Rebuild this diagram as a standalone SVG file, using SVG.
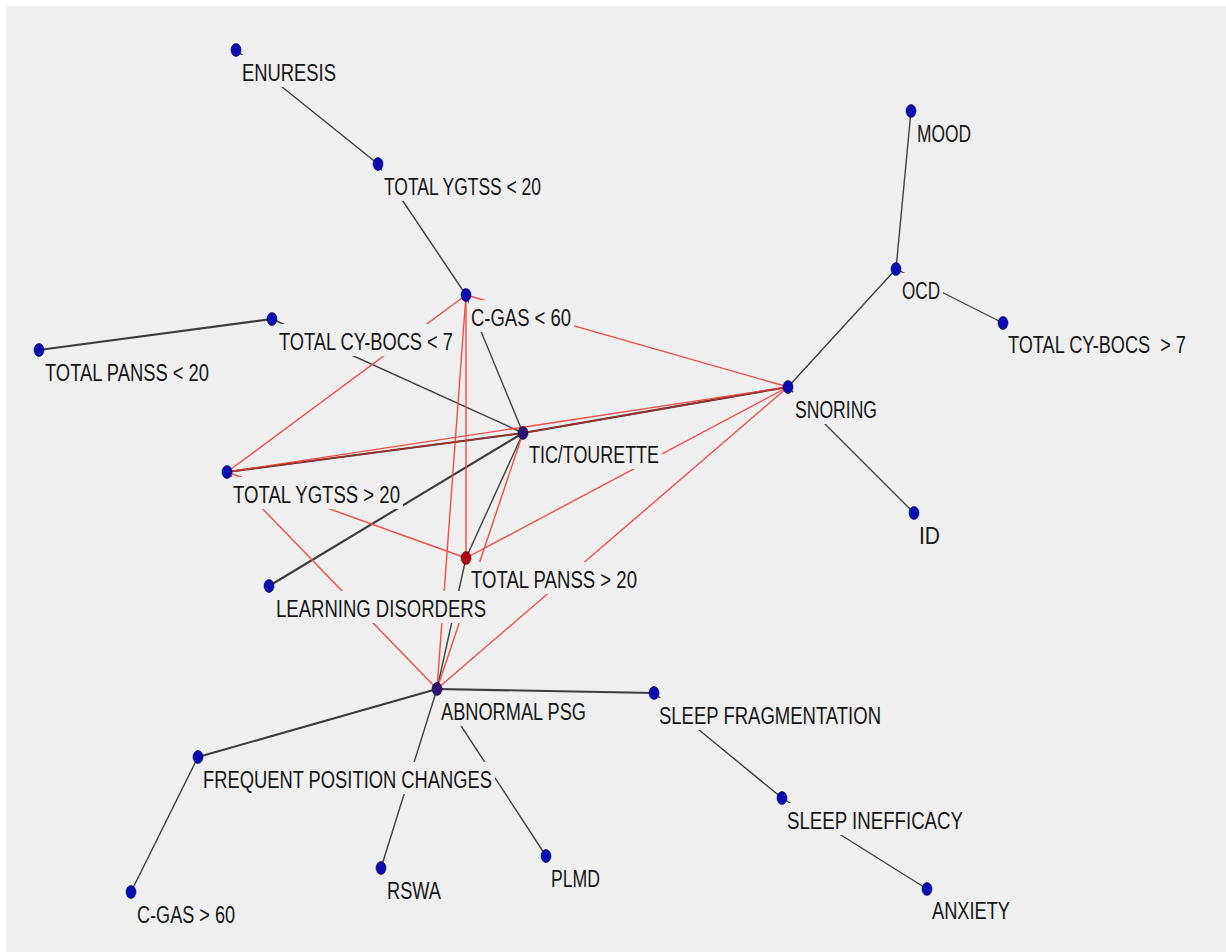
<svg xmlns="http://www.w3.org/2000/svg" width="1226" height="952" viewBox="0 0 1226 952">
  <style>
    .bg { fill: #efefef; }
    .e { fill: none; stroke: #404040; stroke-width: 1.4; stroke-linecap: round; }
    .e.w { stroke-width: 2.1; stroke: #3c3c3c; }
    .r { fill: none; stroke: #f04c4c; stroke-width: 1.4; stroke-linecap: round; }
    .r.ov { stroke: #c02828; stroke-width: 1.4; stroke-dasharray: 7 3; }
    .lb { fill: #efefef; }
    .dot { fill: #0c0cb0; stroke: #00005a; stroke-width: 0.6; }
    .dot.hot { fill: #b0001a; stroke: #5a0008; }
    .dot.mix { fill: #2c1470; stroke: #14003a; }
    .lbl { font-family: "Liberation Sans", Arial, sans-serif; font-size: 23px; fill: #161616; white-space: pre; }
  </style>

  <rect width="1226" height="952" fill="#ffffff"/>
  <rect class="bg" x="6" y="6" width="1220" height="946"/>

  <!-- connectors: grey associations first, red associations on top -->
  <g id="connectors">
    <path class="e" d="M236,50 L378,164"/>
    <path class="e" d="M378,164 L466,295"/>
    <path class="e" d="M466,295 L523,433"/>
    <path class="e" d="M911,111 L896,269"/>
    <path class="e" d="M896,269 L1003,323"/>
    <path class="e" d="M788,387 L896,269"/>
    <path class="e" d="M788,387 L914,513"/>
    <path class="e" d="M523,433 L466,558"/>
    <path class="e" d="M466,558 L437,689"/>
    <path class="e" d="M437,689 L381,868"/>
    <path class="e" d="M437,689 L546,856"/>
    <path class="e" d="M198,757 L131,892"/>
    <path class="e" d="M654,693 L782,798"/>
    <path class="e" d="M782,798 L927,889"/>
    <path class="e" d="M272,319 L523,433"/>
    <path class="e w" d="M39,350 L272,319"/>
    <path class="e w" d="M227,472 L523,433"/>
    <path class="e w" d="M523,433 L788,387"/>
    <path class="e w" d="M523,433 L269,586"/>
    <path class="e w" d="M437,689 L654,693"/>
    <path class="e w" d="M437,689 L198,757"/>

    <path class="r" d="M227,472 L466,295"/>
    <path class="r" d="M466,295 L788,387"/>
    <path class="r" d="M466,295 L466,558"/>
    <path class="r" d="M466,295 L437,689"/>
    <path class="r" d="M227,472 L788,387"/>
    <path class="r" d="M227,472 L466,558"/>
    <path class="r" d="M227,472 L437,689"/>
    <path class="r" d="M788,387 L466,558"/>
    <path class="r" d="M788,387 L437,689"/>
    <path class="r" d="M523,433 L437,689"/>
    <path class="r ov" d="M227,472 L523,433"/>
    <path class="r ov" d="M523,433 L788,387"/>
  </g>

  <!-- nodes: label plate, marker, caption -->
  <g id="n-enuresis"><rect class="lb" x="240" y="55" width="99" height="32"/><ellipse class="dot" cx="236" cy="50" rx="5" ry="6.5"/><text class="lbl" x="242" y="81" textLength="94" lengthAdjust="spacingAndGlyphs">ENURESIS</text></g>
  <g id="n-ygtss-lt20"><rect class="lb" x="382" y="169" width="162" height="32"/><ellipse class="dot" cx="378" cy="164" rx="5" ry="6.5"/><text class="lbl" x="384" y="195" textLength="157" lengthAdjust="spacingAndGlyphs">TOTAL YGTSS &lt; 20</text></g>
  <g id="n-mood"><rect class="lb" x="915" y="116" width="59" height="32"/><ellipse class="dot" cx="911" cy="111" rx="5" ry="6.5"/><text class="lbl" x="917" y="142" textLength="54" lengthAdjust="spacingAndGlyphs">MOOD</text></g>
  <g id="n-ocd"><rect class="lb" x="900" y="273" width="43" height="32"/><ellipse class="dot" cx="896" cy="269" rx="5" ry="6.5"/><text class="lbl" x="902" y="299" textLength="38" lengthAdjust="spacingAndGlyphs">OCD</text></g>
  <g id="n-cybocs-gt7"><rect class="lb" x="1006" y="327" width="187" height="32"/><ellipse class="dot" cx="1003" cy="323" rx="5" ry="6.5"/><text class="lbl" transform="translate(1008,353) scale(0.789,1)" x="0" y="0">TOTAL CY-BOCS  &gt; 7</text></g>
  <g id="n-cgas-lt60"><rect class="lb" x="469" y="300" width="105" height="32"/><ellipse class="dot" cx="466" cy="295" rx="5" ry="6.5"/><text class="lbl" x="471" y="326" textLength="100" lengthAdjust="spacingAndGlyphs">C-GAS &lt; 60</text></g>
  <g id="n-cybocs-lt7"><rect class="lb" x="277" y="324" width="179" height="32"/><ellipse class="dot" cx="272" cy="319" rx="5" ry="6.5"/><text class="lbl" x="279" y="350" textLength="174" lengthAdjust="spacingAndGlyphs">TOTAL CY-BOCS &lt; 7</text></g>
  <g id="n-panss-lt20"><rect class="lb" x="43" y="355" width="169" height="32"/><ellipse class="dot" cx="39" cy="350" rx="5" ry="6.5"/><text class="lbl" x="45" y="381" textLength="164" lengthAdjust="spacingAndGlyphs">TOTAL PANSS &lt; 20</text></g>
  <g id="n-snoring"><rect class="lb" x="793" y="392" width="87" height="32"/><ellipse class="dot" cx="788" cy="387" rx="5" ry="6.5"/><text class="lbl" x="795" y="418" textLength="82" lengthAdjust="spacingAndGlyphs">SNORING</text></g>
  <g id="n-tic"><rect class="lb" x="527" y="437" width="135" height="32"/><ellipse class="dot mix" cx="523" cy="433" rx="5" ry="6.5"/><text class="lbl" x="529" y="463" textLength="130" lengthAdjust="spacingAndGlyphs">TIC/TOURETTE</text></g>
  <g id="n-ygtss-gt20"><rect class="lb" x="231" y="477" width="172" height="32"/><ellipse class="dot" cx="227" cy="472" rx="5" ry="6.5"/><text class="lbl" x="233" y="503" textLength="167" lengthAdjust="spacingAndGlyphs">TOTAL YGTSS &gt; 20</text></g>
  <g id="n-id"><rect class="lb" x="917" y="518" width="26" height="32"/><ellipse class="dot" cx="914" cy="513" rx="5" ry="6.5"/><text class="lbl" x="919" y="544" textLength="21" lengthAdjust="spacingAndGlyphs">ID</text></g>
  <g id="n-panss-gt20"><rect class="lb" x="469" y="562" width="171" height="32"/><ellipse class="dot hot" cx="466" cy="558" rx="5" ry="6.5"/><text class="lbl" x="471" y="588" textLength="166" lengthAdjust="spacingAndGlyphs">TOTAL PANSS &gt; 20</text></g>
  <g id="n-learning"><rect class="lb" x="274" y="591" width="215" height="32"/><ellipse class="dot" cx="269" cy="586" rx="5" ry="6.5"/><text class="lbl" x="276" y="617" textLength="210" lengthAdjust="spacingAndGlyphs">LEARNING DISORDERS</text></g>
  <g id="n-abnormal-psg"><rect class="lb" x="439" y="694" width="150" height="32"/><ellipse class="dot mix" cx="437" cy="689" rx="5" ry="6.5"/><text class="lbl" x="441" y="720" textLength="145" lengthAdjust="spacingAndGlyphs">ABNORMAL PSG</text></g>
  <g id="n-sleep-frag"><rect class="lb" x="657" y="698" width="227" height="32"/><ellipse class="dot" cx="654" cy="693" rx="5" ry="6.5"/><text class="lbl" x="659" y="724" textLength="222" lengthAdjust="spacingAndGlyphs">SLEEP FRAGMENTATION</text></g>
  <g id="n-freq-pos"><rect class="lb" x="201" y="762" width="294" height="32"/><ellipse class="dot" cx="198" cy="757" rx="5" ry="6.5"/><text class="lbl" x="203" y="788" textLength="289" lengthAdjust="spacingAndGlyphs">FREQUENT POSITION CHANGES</text></g>
  <g id="n-sleep-ineff"><rect class="lb" x="785" y="803" width="181" height="32"/><ellipse class="dot" cx="782" cy="798" rx="5" ry="6.5"/><text class="lbl" x="787" y="829" textLength="176" lengthAdjust="spacingAndGlyphs">SLEEP INEFFICACY</text></g>
  <g id="n-rswa"><rect class="lb" x="385" y="873" width="59" height="32"/><ellipse class="dot" cx="381" cy="868" rx="5" ry="6.5"/><text class="lbl" x="387" y="899" textLength="54" lengthAdjust="spacingAndGlyphs">RSWA</text></g>
  <g id="n-plmd"><rect class="lb" x="549" y="861" width="54" height="32"/><ellipse class="dot" cx="546" cy="856" rx="5" ry="6.5"/><text class="lbl" x="551" y="887" textLength="49" lengthAdjust="spacingAndGlyphs">PLMD</text></g>
  <g id="n-cgas-gt60"><rect class="lb" x="135" y="897" width="103" height="32"/><ellipse class="dot" cx="131" cy="892" rx="5" ry="6.5"/><text class="lbl" x="137" y="923" textLength="98" lengthAdjust="spacingAndGlyphs">C-GAS &gt; 60</text></g>
  <g id="n-anxiety"><rect class="lb" x="930" y="893" width="83" height="32"/><ellipse class="dot" cx="927" cy="889" rx="5" ry="6.5"/><text class="lbl" x="932" y="919" textLength="78" lengthAdjust="spacingAndGlyphs">ANXIETY</text></g>
</svg>
